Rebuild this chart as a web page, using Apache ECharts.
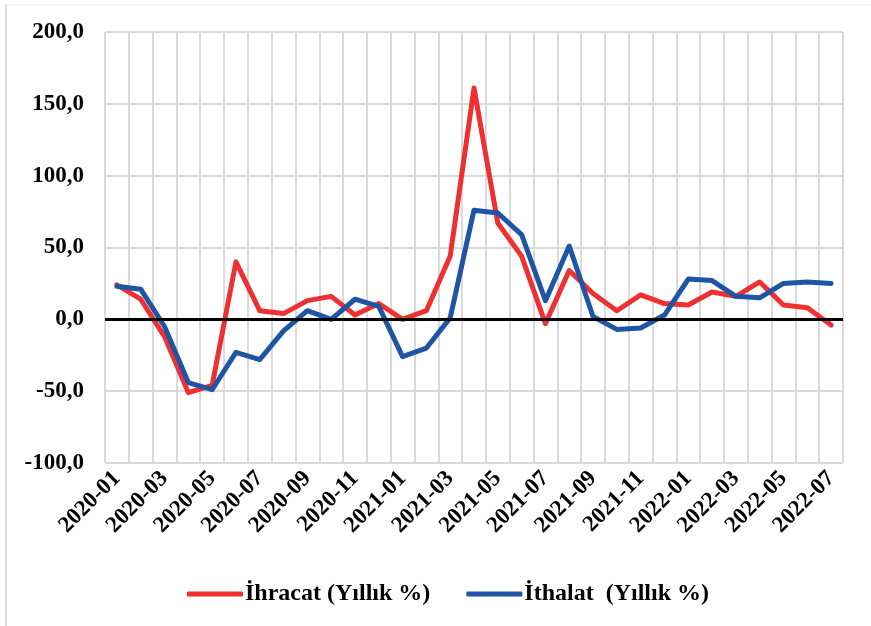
<!DOCTYPE html>
<html>
<head>
<meta charset="utf-8">
<script src="https://cdn.jsdelivr.net/npm/echarts@6/dist/echarts.min.js"></script>
<style>
  html, body { margin: 0; padding: 0; background: #fff; }
  #frame { position: absolute; left: 5px; top: 4px; width: 866px; height: 622px;
           border-left: 2px solid #dcdcdc; border-top: 1px solid #f0f0f0; }
  #main { position: absolute; left: 0; top: 0; width: 871px; height: 626px; }
</style>
</head>
<body>
<div id="frame"></div>
<div id="main"></div>
<script>
// aylar
var months = ['2020-01','2020-02','2020-03','2020-04','2020-05','2020-06','2020-07','2020-08',
  '2020-09','2020-10','2020-11','2020-12','2021-01','2021-02','2021-03','2021-04','2021-05',
  '2021-06','2021-07','2021-08','2021-09','2021-10','2021-11','2021-12','2022-01','2022-02',
  '2022-03','2022-04','2022-05','2022-06','2022-07'];
// ihracat yillik %
var ihracat = [24, 14, -12, -51, -46, 40, 6, 4, 13, 16, 3, 11, 0, 6, 44, 161, 67, 44, -3, 34,
  18, 6, 17, 11, 10, 19, 16, 26, 10, 8, -4];
// ithalat yillik %
var ithalat = [23, 21, -5, -44, -49, -23, -28, -8, 6, 0, 14, 9, -26, -20, 1, 76, 74, 59, 13, 51,
  2, -7, -6, 3, 28, 27, 16, 15, 25, 26, 25];

var font = 'Liberation Serif';
var gridColor = '#dadada';
var chart = echarts.init(document.getElementById('main'));
chart.setOption({
  animation: false,
  grid: { left: 105, right: 28, top: 32, bottom: 163 },
  legend: {
    left: 182, top: 577,
    itemWidth: 56, itemHeight: 5, itemGap: 36,
    icon: 'roundRect',
    textStyle: { fontFamily: font, fontWeight: 'bold', fontSize: 24, color: '#000',
                 padding: [0, 0, 0, -3] },
    data: ['İhracat (Yıllık %)', 'İthalat  (Yıllık %)']
  },
  xAxis: {
    type: 'category',
    data: months,
    boundaryGap: true,
    axisLine: { show: false },
    axisTick: { show: false, interval: 0 },
    splitLine: { show: true, interval: 0, lineStyle: { color: gridColor, width: 2 } },
    axisLabel: {
      interval: 1, rotate: 45, margin: 12,
      fontFamily: font, fontWeight: 'bold', fontSize: 23, color: '#000'
    }
  },
  yAxis: {
    type: 'value',
    min: -100, max: 200, interval: 50,
    axisLine: { show: false },
    axisTick: { show: false },
    splitLine: { lineStyle: { color: gridColor, width: 2 } },
    axisLabel: {
      margin: 21,
      fontFamily: font, fontWeight: 'bold', fontSize: 23, color: '#000',
      formatter: function (v) { return v.toFixed(1).replace('.', ','); }
    }
  },
  series: [
    {
      name: 'İhracat (Yıllık %)',
      type: 'line',
      data: ihracat,
      symbol: 'none',
      color: '#EE3030',
      lineStyle: { width: 5, color: '#EE3030', cap: 'round', join: 'round' },
      markLine: {
        silent: true, symbol: 'none', label: { show: false },
        lineStyle: { color: '#000', width: 3, type: 'solid' },
        data: [{ yAxis: 0 }]
      }
    },
    {
      name: 'İthalat  (Yıllık %)',
      type: 'line',
      data: ithalat,
      symbol: 'none',
      color: '#1F55A5',
      lineStyle: { width: 5, color: '#1F55A5', cap: 'round', join: 'round' }
    }
  ]
});
</script>
</body>
</html>
